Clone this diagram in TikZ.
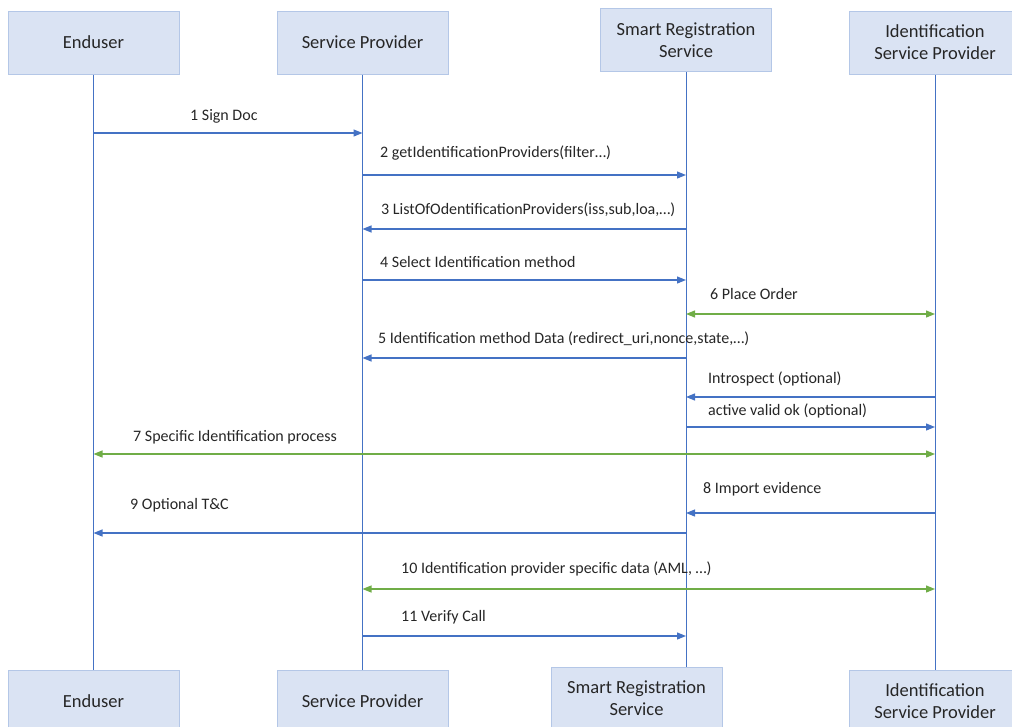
\documentclass[tikz,border=0pt]{standalone}
\usepackage{fontspec}
\setmainfont{Carlito}
\usetikzlibrary{arrows.meta}
\definecolor{lineblue}{HTML}{4472C4}
\definecolor{linegreen}{HTML}{70AD47}
\definecolor{boxfill}{HTML}{DAE3F3}
\definecolor{boxdraw}{HTML}{B4C7E7}
\definecolor{txt}{HTML}{262626}
\tikzset{
  actor/.style={draw=boxdraw, fill=boxfill, line width=1pt, minimum width=171pt, minimum height=63pt,
    align=center, font=\fontsize{18.5}{22}\selectfont, text=txt, inner sep=0pt},
  life/.style={draw=lineblue, line width=1pt},
  msg/.style={draw=lineblue, line width=1.2pt, -{Triangle[length=9pt,width=7pt]}},
  dmsg/.style={draw=linegreen, line width=1.2pt, {Triangle[length=9pt,width=7pt]}-{Triangle[length=9pt,width=7pt]}},
  lbl/.style={anchor=west, inner sep=0pt, font=\fontsize{16}{18}\selectfont, text=txt},
}
\begin{document}
\begin{tikzpicture}[x=1pt,y=-1pt]
\useasboundingbox (0,0) rectangle (1012,726);
\clip (0,0) rectangle (1012,726);
% actors top
\node[actor] (eu) at (93.5,42.5) {Enduser};
\node[actor] (sp) at (362.5,42.5) {Service Provider};
\node[actor] (srs) at (686,40) {Smart Registration\\Service};
\node[actor] (isp) at (935,42.5) {Identification\\Service Provider};
% actors bottom
\node[actor] (eub) at (93.5,701.5) {Enduser};
\node[actor] (spb) at (362.5,701.5) {Service Provider};
\node[actor] (srsb) at (636.5,698.5) {Smart Registration\\Service};
\node[actor] (ispb) at (935,701.5) {Identification\\Service Provider};
% lifelines
\draw[life] (eu.south) -- (eub.north);
\draw[life] (sp.south) -- (spb.north);
\draw[life] (srs.south) -- (srs.south |- srsb.north);
\draw[life] (isp.south) -- (ispb.north);
% rows
\coordinate (r1) at (0,133);
\coordinate (r2) at (0,175);
\coordinate (r3) at (0,229);
\coordinate (r4) at (0,280);
\coordinate (r6) at (0,314);
\coordinate (r5) at (0,358);
\coordinate (ri) at (0,397);
\coordinate (ra) at (0,427);
\coordinate (r7) at (0,454);
\coordinate (r8) at (0,513);
\coordinate (r9) at (0,533);
\coordinate (r10) at (0,589);
\coordinate (r11) at (0,636);
% messages
\draw[msg] (eu |- r1) -- (sp |- r1);
\node[lbl] (l1) at (190,116) {1 Sign Doc};
\draw[msg] (sp |- r2) -- (srs |- r2);
\node[lbl] (l2) at (380,153) {2 getIdentificationProviders(filter…)};
\draw[msg] (srs |- r3) -- (sp |- r3);
\node[lbl] (l3) at (381,210) {3 ListOfOdentificationProviders(iss,sub,loa,…)};
\draw[msg] (sp |- r4) -- (srs |- r4);
\node[lbl] (l4) at (380,262) {4 Select Identification method};
\draw[dmsg] (srs |- r6) -- (isp |- r6);
\node[lbl] (l6) at (710,294) {6 Place Order};
\draw[msg] (srs |- r5) -- (sp |- r5);
\node[lbl] (l5) at (378,339) {5 Identification method Data (redirect\_uri,nonce,state,…)};
\draw[msg] (isp |- ri) -- (srs |- ri);
\node[lbl] (li) at (708,379) {Introspect (optional)};
\draw[msg] (srs |- ra) -- (isp |- ra);
\node[lbl] (la) at (708,411) {active valid ok (optional)};
\draw[dmsg] (eu |- r7) -- (isp |- r7);
\node[lbl] (l7) at (133,437) {7 Specific Identification process};
\draw[msg] (isp |- r8) -- (srs |- r8);
\node[lbl] (l8) at (703,489) {8 Import evidence};
\draw[msg] (srs |- r9) -- (eu |- r9);
\node[lbl] (l9) at (130,505) {9 Optional T\&C};
\draw[dmsg] (sp |- r10) -- (isp |- r10);
\node[lbl] (l10) at (401,569) {10 Identification provider specific data (AML, …)};
\draw[msg] (sp |- r11) -- (srs |- r11);
\node[lbl] (l11) at (401,617) {11 Verify Call};
\end{tikzpicture}
\end{document}
